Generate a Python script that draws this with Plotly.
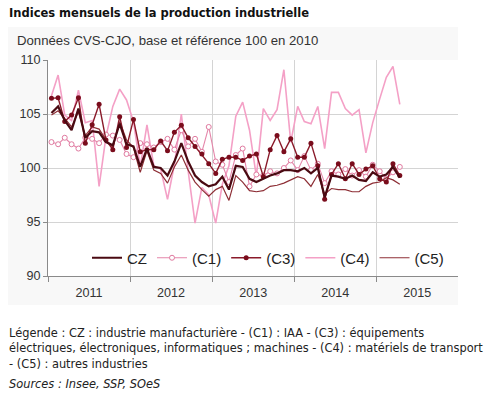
import plotly.graph_objects as go

# ---- data (monthly, Jan 2011 - Apr 2015) ----
months = [f"{y}-{m:02d}-01" for y in range(2011, 2016) for m in range(1, 13)][:52]

cz = [105.1, 105.7, 104.4, 103.5, 105.5, 102.8, 103.4, 103.3, 102.4, 102.1, 104.1, 102.2,
      102.0, 100.1, 101.8, 100.1, 100.0, 99.3, 100.6, 102.3, 100.6, 99.3, 98.7, 98.3,
      98.5, 99.2, 98.0, 100.2, 100.1, 99.0, 98.7, 99.0, 99.3, 99.5, 99.8, 99.8,
      99.7, 100.0, 99.5, 100.0, 97.3, 99.3, 99.2, 99.0, 99.3, 98.9, 98.8, 99.6,
      99.2, 99.4, 100.1, 99.1]

c1 = [102.4, 102.2, 102.8, 102.2, 101.8, 102.8, 102.7, 102.3, 103.1, 103.0, 102.6, 101.3,
      101.0, 102.3, 102.2, 101.9, 102.4, 102.7, 101.7, 103.5, 102.0, 102.7, 101.5, 103.8,
      100.6, 100.3, 98.7, 101.2, 101.8, 98.3, 99.4, 99.3, 99.7, 99.5, 100.0, 100.7,
      99.8, 101.1, 99.8, 100.4, 98.6, 99.7, 99.4, 99.9, 99.3, 99.8, 99.2, 100.3,
      99.7, 99.0, 99.6, 100.1]

c3 = [106.45, 106.5, 104.3, 104.9, 106.5, 102.3, 104.0, 105.9, 102.6, 101.7, 104.75, 101.9,
      104.5, 101.5, 101.7, 101.7, 102.5, 101.6, 103.3, 103.95, 102.8, 102.0, 101.3, 100.4,
      99.5, 100.8, 101.0, 101.0, 100.7, 101.1, 101.3, 99.2, 101.7, 103.0, 101.5, 102.7,
      101.0, 101.0, 102.3, 100.2, 97.1, 99.4, 100.4, 99.0, 100.4, 99.4, 99.9, 100.2,
      99.0, 98.7, 100.4, 99.3]

c4 = [106.7, 108.6, 104.9, 104.4, 107.2, 104.2, 104.4, 98.3, 102.9, 105.7, 107.3, 106.3,
      104.3, 100.1, 104.0, 100.2, 99.9, 97.1, 100.3, 105.0, 99.7, 94.9, 98.2, 97.5,
      94.9, 98.5, 100.2, 104.8, 106.1, 103.5, 99.2, 105.5, 104.4, 105.4, 109.1, 102.4,
      105.7, 104.3, 104.1, 105.7, 101.8, 107.0, 107.0, 105.5, 104.9, 105.4, 101.4, 104.2,
      106.4, 108.4, 109.4, 105.9]

c5 = [104.9, 105.3, 104.6, 103.8, 105.2, 103.0, 103.8, 103.6, 102.6, 101.9, 104.3, 102.6,
      101.9, 99.6, 101.6, 99.8, 99.5, 98.6, 100.1, 101.2, 99.8, 98.7, 98.0, 97.4,
      98.0, 98.3, 97.0, 99.3, 98.7, 97.9, 97.8, 97.9, 98.3, 98.4, 98.6, 98.9,
      99.2, 99.0, 98.3, 99.4, 97.6, 98.1, 98.0, 98.0, 97.8, 97.8, 98.3, 98.6,
      98.7, 99.1, 98.9, 98.5]

y_ticks = [90, 95, 100, 105, 110]

title_txt = "Indices mensuels de la production industrielle"
subtitle_txt = "Données CVS-CJO, base et référence 100 en 2010"
note_lines = [
    "Légende : CZ : industrie manufacturière - (C1) : IAA - (C3) : équipements",
    "électriques, électroniques, informatiques ; machines - (C4) : matériels de transport",
    "- (C5) : autres industries",
]
source_txt = "Sources : Insee, SSP, SOeS"

# ---- figure geometry (pixels) ----
W, H = 494, 397
L, R, T, B = 48, 36, 60, 121
PW, PH = W - L - R, H - T - B


def xp(px):
    return (px - L) / PW


def yp(py):
    return (H - B - py) / PH


fig = go.Figure()

common = dict(x=months, xperiod="M1", xperiodalignment="middle", mode="lines")

fig.add_trace(go.Scatter(y=c4, name="(C4)", legendrank=4,
                         line=dict(color="#f4a0c6", width=1.6), **common))
fig.add_trace(go.Scatter(y=c1, name="(C1)", legendrank=2,
                         line=dict(color="#e586aa", width=1.1),
                         marker=dict(symbol="circle", size=5, color="white",
                                     line=dict(color="#e07aa0", width=1)),
                         **{**common, "mode": "lines+markers"}))
fig.add_trace(go.Scatter(y=c5, name="(C5)", legendrank=5,
                         line=dict(color="#8e2f36", width=1.2), **common))
fig.add_trace(go.Scatter(y=c3, name="(C3)", legendrank=3,
                         line=dict(color="#8a1a2a", width=1.4),
                         marker=dict(symbol="circle", size=5, color="#7a0c1c"),
                         **{**common, "mode": "lines+markers"}))
fig.add_trace(go.Scatter(y=cz, name="CZ", legendrank=1,
                         line=dict(color="#4a0a12", width=2.2), **common))

axis_font = dict(family="Liberation Sans, Arial, sans-serif", size=12.6, color="#333333")

fig.update_xaxes(
    type="date",
    range=["2011-01-01", "2015-12-31"],
    tick0="2011-01-01", dtick="M12", tickformat="%Y", ticklabelmode="period",
    showgrid=True, gridcolor="#d4d4d4", gridwidth=1,
    showline=True, linecolor="#8a8a8a", linewidth=1,
    ticks="outside", ticklen=5, tickcolor="#8a8a8a",
    tickfont=axis_font, ticklabelstandoff=0,
    zeroline=False, fixedrange=True,
)
fig.update_yaxes(
    range=[90, 110], tickvals=y_ticks,
    showgrid=True, gridcolor="#d4d4d4", gridwidth=1,
    showline=True, linecolor="#8a8a8a", linewidth=1,
    ticks="outside", ticklen=4, tickcolor="#8a8a8a",
    tickfont=axis_font, zeroline=False, fixedrange=True,
)

shapes = [
    dict(type="rect", xref="paper", yref="paper", layer="below",
         x0=xp(8), x1=xp(458), y0=yp(305), y1=yp(27),
         fillcolor="#f8f8f8", line=dict(width=0)),
    dict(type="rect", xref="paper", yref="paper", layer="below",
         x0=0, x1=1, y0=0, y1=1, fillcolor="white", line=dict(width=0)),
]

ann = [
    dict(text=f"<b>{title_txt}</b>", x=xp(7), y=yp(13),
         font=dict(family="DejaVu Sans", size=11.5, color="#111111")),
    dict(text=subtitle_txt, x=xp(15), y=yp(40),
         font=dict(family="Liberation Sans, Arial", size=13.2, color="#333333")),
]
for k, line in enumerate(note_lines):
    ann.append(dict(text=line, x=xp(7), y=yp(333 + k * 15.3),
                    font=dict(family="DejaVu Sans", size=11.4, color="#222222")))
ann.append(dict(text=f"<i>{source_txt}</i>", x=xp(7), y=yp(384),
                font=dict(family="DejaVu Sans", size=11.4, color="#222222")))
for a in ann:
    a.update(xref="paper", yref="paper", xanchor="left", yanchor="middle",
             showarrow=False)

fig.update_layout(
    width=W, height=H, autosize=False,
    margin=dict(l=L, r=R, t=T, b=B, pad=0),
    paper_bgcolor="white", plot_bgcolor="white",
    shapes=shapes, annotations=ann,
    showlegend=True,
    legend=dict(orientation="h", x=xp(268), xanchor="center",
                y=yp(258), yanchor="middle",
                bgcolor="rgba(255,255,255,0)",
                font=dict(family="Liberation Sans, Arial", size=15, color="#222222"),
                itemwidth=30, traceorder="normal"),
    hovermode=False,
)

fig.write_html("out.html",
               config={"displayModeBar": False, "staticPlot": True},
               post_script="document.body.style.margin='0';"
                           "document.body.style.overflow='hidden';")
